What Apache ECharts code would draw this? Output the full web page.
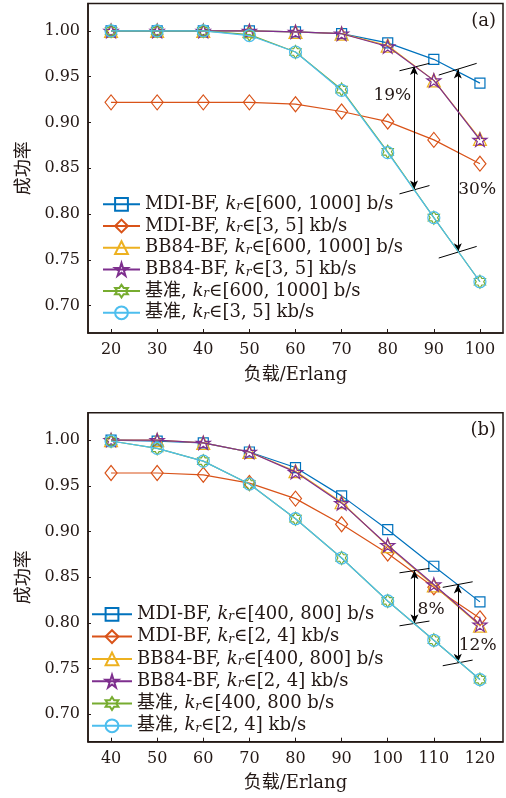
<!DOCTYPE html>
<html>
<head>
<meta charset="utf-8">
<script src="https://cdn.jsdelivr.net/npm/echarts@6/dist/echarts.min.js"></script>
<style>
html, body { margin: 0; padding: 0; background: #fff; }
#chart { width: 506px; height: 798px; }
</style>
</head>
<body>
<div id="chart"></div>
<script>
// 负载 (Erlang)
const loadA = [20, 30, 40, 50, 60, 70, 80, 90, 100];
const loadB = [40, 50, 60, 70, 80, 90, 100, 110, 120];

// (a) 成功率
const mdiHighA = [1.000, 1.000, 1.000, 1.000, 0.999, 0.997, 0.987, 0.969, 0.943];
const mdiLowA = [0.922, 0.922, 0.922, 0.922, 0.920, 0.912, 0.901, 0.881, 0.855];
const bbHighA = [1.000, 1.000, 1.000, 1.000, 0.999, 0.997, 0.984, 0.946, 0.882];
const bbLowA = [1.000, 1.000, 1.000, 1.000, 0.999, 0.997, 0.983, 0.946, 0.881];
const baseHighA = [1.000, 1.000, 1.000, 0.996, 0.977, 0.936, 0.868, 0.796, 0.726];
const baseLowA = [1.000, 1.000, 1.000, 0.995, 0.977, 0.935, 0.867, 0.796, 0.726];

// (b) 成功率
const mdiHighB = [1.000, 0.999, 0.997, 0.987, 0.970, 0.939, 0.902, 0.862, 0.823];
const mdiLowB = [0.964, 0.964, 0.962, 0.953, 0.936, 0.908, 0.876, 0.839, 0.805];
const bbHighB = [1.000, 1.000, 0.997, 0.987, 0.966, 0.932, 0.884, 0.841, 0.797];
const bbLowB = [1.000, 1.000, 0.997, 0.987, 0.965, 0.931, 0.885, 0.842, 0.798];
const baseHighB = [0.999, 0.991, 0.977, 0.952, 0.914, 0.871, 0.824, 0.781, 0.738];
const baseLowB = [0.999, 0.991, 0.977, 0.952, 0.914, 0.871, 0.824, 0.781, 0.738];

const namesA = [
    'MDI-BF, k_r∈[600, 1000] b/s',
    'MDI-BF, k_r∈[3, 5] kb/s',
    'BB84-BF, k_r∈[600, 1000] b/s',
    'BB84-BF, k_r∈[3, 5] kb/s',
    '基准, k_r∈[600, 1000] b/s',
    '基准, k_r∈[3, 5] kb/s',
];
const namesB = [
    'MDI-BF, k_r∈[400, 800] b/s',
    'MDI-BF, k_r∈[2, 4] kb/s',
    'BB84-BF, k_r∈[400, 800] b/s',
    'BB84-BF, k_r∈[2, 4] kb/s',
    '基准, k_r∈[400, 800 b/s',
    '基准, k_r∈[2, 4] kb/s',
];

// 标注: 箭头 (数据坐标)
const arrowsA = [[[85.7, 0.9616], [85.7, 0.8268]], [[95.2, 0.9580], [95.2, 0.7582]]];
const barsA = [
    [[82.55, 0.9565], [89.05, 0.9646]], [[82.55, 0.8220], [89.05, 0.8311]],
    [[91.06, 0.9518], [99.29, 0.9646]], [[91.06, 0.7519], [99.29, 0.7646]],
];
const pctA = [['19%', 81.0, 0.9298], ['30%', 99.4, 0.8268]];

const arrowsB = [[[105.8, 0.8577], [105.8, 0.7995]], [[115.2, 0.8419], [115.2, 0.7563]]];
const barsB = [
    [[102.55, 0.8548], [109.05, 0.8596]], [[102.55, 0.7968], [109.05, 0.8020]],
    [[111.93, 0.8389], [118.42, 0.8450]], [[111.93, 0.7531], [118.42, 0.7593]],
];
const pctB = [['8%', 109.4, 0.815], ['12%', 119.5, 0.775]];

const FONT = "'DejaVu Serif', 'Noto Sans CJK SC', serif";
const DARK = '#231815';
const colors = ['#0072BD', '#D95319', '#EDB120', '#7E2F8E', '#77AC30', '#4DBEEE'];
const STAR = 'path://M50 0 L61.2 34.5 L97.6 34.5 L68.2 55.9 L79.4 90.5 L50 69.1 L20.6 90.5 L31.8 55.9 L2.4 34.5 L38.8 34.5 Z';
const HEX = 'path://M50 0 L64.4 25 L93.3 25 L78.9 50 L93.3 75 L64.4 75 L50 100 L35.6 75 L6.7 75 L21.1 50 L6.7 25 L35.6 25 Z';
const symbols = ['rect', 'diamond', 'triangle', STAR, HEX, 'circle'];
const sizes = [10, [12, 15], 13, 14, 13, 12];

const chart = echarts.init(document.getElementById('chart'));

function makeSeries(name, xs, ys, k, idx) {
    return {
        name: name,
        type: 'line',
        xAxisIndex: idx,
        yAxisIndex: idx,
        data: xs.map((x, i) => [x, ys[i]]),
        symbol: symbols[k],
        symbolSize: sizes[k],
        symbolKeepAspect: true,
        lineStyle: { color: colors[k], width: 1.2 },
        itemStyle: { color: 'rgba(0,0,0,0)', borderColor: colors[k], borderWidth: 1.2 },
        emphasis: { disabled: true },
        z: 2 + k,
    };
}

function annotSeries(idx, arrows, bars, pcts) {
    const lines = [];
    arrows.forEach(a => lines.push([{ coord: a[0] }, { coord: a[1] }]));
    bars.forEach(b => lines.push([{ coord: b[0], symbol: 'none' }, { coord: b[1], symbol: 'none' }]));
    return {
        name: 'annot' + idx,
        type: 'line',
        xAxisIndex: idx,
        yAxisIndex: idx,
        data: [],
        z: 10,
        markLine: {
            silent: true,
            symbol: ['arrow', 'arrow'],
            symbolSize: [6, 9],
            lineStyle: { color: '#000', width: 1, type: 'solid' },
            label: { show: false },
            data: lines,
        },
        markPoint: {
            silent: true,
            symbol: 'circle',
            symbolSize: 1,
            itemStyle: { color: 'rgba(0,0,0,0)' },
            label: { show: true, position: 'inside', formatter: '{b}', fontFamily: FONT, fontSize: 17, color: DARK },
            data: pcts.map(p => ({ name: p[0], coord: [p[1], p[2]] })),
        },
    };
}

function xAxisOf(idx, min, max) {
    return {
        gridIndex: idx,
        type: 'value',
        min: min,
        max: max,
        splitNumber: 9,
        name: '负载/Erlang',
        nameLocation: 'middle',
        nameGap: 33,
        nameTextStyle: { fontFamily: FONT, fontSize: 18, color: DARK },
        axisLine: { lineStyle: { color: DARK, width: 1.5 } },
        axisTick: { inside: true, length: 4, lineStyle: { color: DARK, width: 1 } },
        axisLabel: { fontFamily: FONT, fontSize: 16, color: DARK, margin: 9, showMinLabel: false, showMaxLabel: false },
        splitLine: { show: false },
    };
}

function yAxisOf(idx) {
    return {
        gridIndex: idx,
        type: 'value',
        min: 0.67,
        max: 1.03,
        splitNumber: 7,
        name: '成功率',
        nameLocation: 'middle',
        nameGap: 55,
        nameTextStyle: { fontFamily: FONT, fontSize: 18, color: DARK },
        axisLine: { lineStyle: { color: DARK, width: 1.5 } },
        axisTick: { inside: true, length: 3, lineStyle: { color: DARK, width: 1 } },
        axisLabel: {
            fontFamily: FONT, fontSize: 16, color: DARK, margin: 8,
            showMinLabel: false, showMaxLabel: false,
            formatter: v => v.toFixed(2),
        },
        splitLine: { show: false },
    };
}

function legendOf(names, left, top, width, gap) {
    return {
        data: names,
        orient: 'vertical',
        left: left,
        top: top,
        padding: 0,
        itemWidth: width,
        itemHeight: 16,
        itemGap: gap,
        selectedMode: false,
        formatter: n => n.replace('k_r', '{i|k}{s|r}'),
        textStyle: {
            fontFamily: FONT, fontSize: 18, color: DARK, lineHeight: 18,
            rich: {
                i: { fontFamily: FONT, fontSize: 18, fontStyle: 'italic', color: DARK, lineHeight: 18 },
                s: { fontFamily: FONT, fontSize: 12, fontStyle: 'italic', color: DARK, lineHeight: 12, verticalAlign: 'bottom', padding: [8, 0, 0, 0] },
            },
        },
    };
}

const seriesList = [];
[mdiHighA, mdiLowA, bbHighA, bbLowA, baseHighA, baseLowA].forEach((ys, k) => {
    seriesList.push(makeSeries(namesA[k], loadA, ys, k, 0));
});
[mdiHighB, mdiLowB, bbHighB, bbLowB, baseHighB, baseLowB].forEach((ys, k) => {
    seriesList.push(makeSeries(namesB[k], loadB, ys, k, 1));
});
seriesList.push(annotSeries(0, arrowsA, barsA, pctA));
seriesList.push(annotSeries(1, arrowsB, barsB, pctB));

const option = {
    animation: false,
    backgroundColor: '#fff',
    title: [
        { text: '(a)', right: 10, top: 12, padding: 0, textStyle: { fontFamily: FONT, fontSize: 18, fontWeight: 'normal', color: DARK } },
        { text: '(b)', right: 10, top: 421, padding: 0, textStyle: { fontFamily: FONT, fontSize: 18, fontWeight: 'normal', color: DARK } },
    ],
    grid: [
        { left: 88, top: 3.5, width: 415, height: 329.5, show: true, borderColor: DARK, borderWidth: 1.5 },
        { left: 88, top: 412.7, width: 415, height: 329, show: true, borderColor: DARK, borderWidth: 1.5 },
    ],
    legend: [
        legendOf(namesA, 102, 193.3, 37, 1.7),
        legendOf(namesB, 91, 603.3, 40, 2.3),
    ],
    xAxis: [xAxisOf(0, 15, 105), xAxisOf(1, 35, 125)],
    yAxis: [yAxisOf(0), yAxisOf(1)],
    series: seriesList,
};

chart.setOption(option);
</script>
</body>
</html>
